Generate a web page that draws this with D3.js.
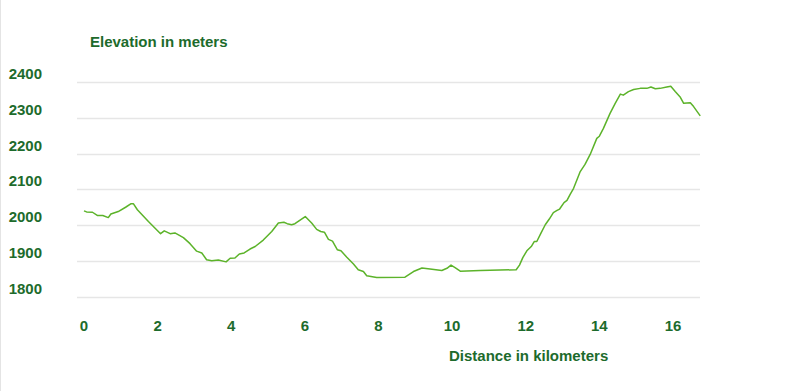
<!DOCTYPE html>
<html>
<head>
<meta charset="utf-8">
<script src="https://cdn.jsdelivr.net/npm/d3@7"></script>
<style>
  body { margin: 0; background: #fff; }
  text { font-family: "Liberation Sans", Arial, sans-serif; font-weight: bold; fill: #1d6b2c; }
</style>
</head>
<body>
<div id="container"></div>
<script>
var WIDTH = 800,
	HEIGHT = 391;

// distance (km) and elevation (m)
var distance = [0, 0.07, 0.23, 0.36, 0.51, 0.66, 0.73, 0.93, 1.13, 1.28, 1.34, 1.45, 1.75, 2.08, 2.18, 2.34, 2.47, 2.70, 2.88, 3.06,
	3.20, 3.33, 3.47, 3.65, 3.86, 3.97, 4.10, 4.22, 4.35, 4.51, 4.65, 4.87, 5.10, 5.28, 5.43, 5.52, 5.64, 5.73, 6.01, 6.19,
	6.32, 6.43, 6.53, 6.64, 6.75, 6.88, 6.98, 7.14, 7.32, 7.45, 7.59, 7.68, 7.95, 8.72, 8.95, 9.18, 9.40, 9.72, 9.86, 9.97,
	10.08, 10.22, 10.76, 11.74, 11.83, 11.92, 12.03, 12.15, 12.23, 12.30, 12.41, 12.53, 12.64, 12.75, 12.85, 12.92, 13.04, 13.12, 13.21, 13.30,
	13.48, 13.61, 13.75, 13.93, 14.00, 14.11, 14.29, 14.43, 14.57, 14.65, 14.79, 14.93, 15.11, 15.29, 15.40, 15.52, 15.65, 15.83, 15.94, 16.06,
	16.20, 16.29, 16.47, 16.56, 16.74];
var elevation = [2040, 2037, 2036, 2027, 2027, 2021, 2031, 2038, 2050, 2060, 2060, 2043, 2010, 1976, 1984, 1976, 1978, 1965, 1948, 1927,
	1922, 1903, 1900, 1902, 1897, 1907, 1908, 1919, 1922, 1933, 1940, 1958, 1982, 2006, 2008, 2004, 2001, 2004, 2024, 2005,
	1988, 1982, 1980, 1960, 1955, 1931, 1928, 1910, 1891, 1875, 1870, 1858, 1853, 1854, 1870, 1880, 1877, 1873, 1879, 1888,
	1881, 1871, 1873, 1875, 1888, 1909, 1928, 1940, 1954, 1954, 1977, 2001, 2017, 2035, 2041, 2045, 2063, 2069, 2087, 2103,
	2150, 2170, 2198, 2243, 2249, 2271, 2313, 2341, 2367, 2364, 2374, 2380, 2383, 2383, 2387, 2382, 2383, 2387, 2389, 2374,
	2358, 2341, 2343, 2332, 2306];

var xTicks = [0, 2, 4, 6, 8, 10, 12, 14, 16];
var yTicks = [1800, 1900, 2000, 2100, 2200, 2300, 2400];

var xScale = d3.scaleLinear().domain([0, 16]).range([84, 673]);
var yScale = d3.scaleLinear().domain([1800, 2400]).range([296.5, 82.3]);

var data = distance.map(function(d, i){ return [d, elevation[i]]; });

var svg = d3.select('#container')
	.append('svg')
	.attr('width', WIDTH)
	.attr('height', HEIGHT);

// faint left frame edge
svg.append('line')
	.attr('x1', 0.5).attr('x2', 0.5)
	.attr('y1', 0).attr('y2', HEIGHT)
	.attr('stroke', '#e4e4e4');

// grid lines
svg.selectAll('.grid').data(yTicks).enter()
	.append('line')
	.attr('x1', 77).attr('x2', 700)
	.attr('y1', function(d){ return Math.round(yScale(d)) + 0.5; })
	.attr('y2', function(d){ return Math.round(yScale(d)) + 0.5; })
	.attr('stroke', '#e6e6e6')
	.attr('stroke-width', 1.5);

// y labels
svg.selectAll('.ylab').data(yTicks).enter()
	.append('text')
	.attr('x', 42)
	.attr('y', function(d){ return yScale(d) - 3; })
	.attr('text-anchor', 'end')
	.style('font-size', '15px')
	.text(function(d){ return d; });

// x labels
svg.selectAll('.xlab').data(xTicks).enter()
	.append('text')
	.attr('x', function(d){ return xScale(d); })
	.attr('y', 331)
	.attr('text-anchor', 'middle')
	.style('font-size', '15px')
	.text(function(d){ return d; });

svg.append('text')
	.attr('x', 90).attr('y', 47)
	.style('font-size', '15px')
	.text('Elevation in meters');

svg.append('text')
	.attr('x', 449).attr('y', 361)
	.style('font-size', '15px')
	.text('Distance in kilometers');

var line = d3.line()
	.x(function(d){ return xScale(d[0]); })
	.y(function(d){ return yScale(d[1]); });

svg.append('path')
	.attr('d', line(data))
	.attr('fill', 'none')
	.attr('stroke', '#5cb32a')
	.attr('stroke-width', 1.5)
	.attr('stroke-linejoin', 'round');
</script>
</body>
</html>
